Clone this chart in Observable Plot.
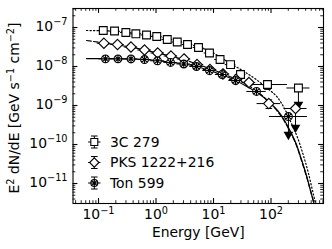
<!DOCTYPE html>
<html><head><meta charset="utf-8">
<script src="https://cdn.jsdelivr.net/npm/d3@7"></script>
<script src="https://cdn.jsdelivr.net/npm/@observablehq/plot@0.6"></script>
<style>html,body{margin:0;padding:0;background:#fff}svg{display:block}</style>
</head><body><div id="chart"></div>
<script>
// ---------- data ----------
const series = ["3C 279", "PKS 1222+216", "Ton 599"];

const energy3C = [0.121, 0.190, 0.299, 0.446, 0.684, 1.03, 1.57, 2.34, 3.53, 5.48, 8.51, 13.0, 19.8, 29.5, 86.9, 300];
const flux3C   = [8.38e-8, 8.13e-8, 7.44e-8, 6.89e-8, 6.42e-8, 5.88e-8, 4.92e-8, 4.25e-8, 3.66e-8, 3.07e-8, 2.22e-8, 1.51e-8, 1.12e-8, 6.24e-9, 3.45e-9, 2.81e-9];
const eLo3C    = [0.098, 0.154, 0.242, 0.361, 0.553, 0.833, 1.27, 1.89, 2.86, 4.43, 6.89, 10.5, 16.0, 23.9, 39.0, 189];
const eHi3C    = [0.150, 0.235, 0.370, 0.551, 0.845, 1.27, 1.94, 2.89, 4.36, 6.77, 10.5, 16.1, 24.5, 36.5, 193, 476];
const rel3C    = [0.03, 0.03, 0.03, 0.03, 0.03, 0.03, 0.04, 0.04, 0.05, 0.06, 0.07, 0.08, 0.1, 0.15, 0.25, 0.1];

const energyPKS = [0.124, 0.214, 0.367, 0.631, 1.07, 1.82, 3.07, 5.17, 8.69, 14.6, 24.6, 41.4, 91.6, 267];
const fluxPKS   = [3.95e-8, 3.66e-8, 3.16e-8, 2.65e-8, 2.22e-8, 1.86e-8, 1.56e-8, 1.12e-8, 8.37e-9, 6.43e-9, 4.65e-9, 3.89e-9, 1.12e-9, 8.37e-10];
const eLoPKS    = [0.095, 0.164, 0.281, 0.482, 0.818, 1.39, 2.35, 3.95, 6.64, 11.2, 18.8, 31.7, 57.2, 168];
const eHiPKS    = [0.162, 0.280, 0.480, 0.825, 1.40, 2.38, 4.02, 6.76, 11.4, 19.1, 32.2, 54.2, 147, 423];
const relPKS    = [0.03, 0.03, 0.03, 0.03, 0.03, 0.04, 0.04, 0.05, 0.06, 0.08, 0.1, 0.15, 0.25, 0.1];

const energyTon = [0.132, 0.218, 0.367, 0.631, 1.06, 1.79, 3.04, 5.06, 8.51, 14.1, 24.2, 56.0, 201];
const fluxTon   = [1.57e-8, 1.57e-8, 1.56e-8, 1.51e-8, 1.40e-8, 1.27e-8, 1.16e-8, 1.0e-8, 7.89e-9, 6.24e-9, 4.38e-9, 2.29e-9, 5.22e-10];
const eLoTon    = [0.101, 0.167, 0.281, 0.482, 0.810, 1.37, 2.32, 3.87, 6.51, 10.8, 18.5, 38.0, 94];
const eHiTon    = [0.173, 0.285, 0.480, 0.825, 1.39, 2.34, 3.98, 6.62, 11.1, 18.4, 31.7, 82.6, 430];
const relTon    = [0.03, 0.03, 0.03, 0.03, 0.03, 0.04, 0.04, 0.05, 0.06, 0.08, 0.1, 0.15, 0.1];

// last bins: error bars ending in downward arrows
const arrowEnergy = [300, 267, 201];
const arrowTop    = [2.81e-9, 8.37e-10, 5.22e-10];
const arrowBottom = [1.06e-9, 2.73e-10, 1.80e-10];

// model curves
const modelE3C = [0.0618, 0.122, 0.295, 0.684, 1.585, 3.67, 8.51, 19.8, 36.1, 58.2, 86.9, 130, 179, 227, 289, 353, 449, 527, 594, 660];
const modelF3C = [8.38e-8, 8.23e-8, 7.67e-8, 6.62e-8, 5.22e-8, 3.78e-8, 2.49e-8, 1.19e-8, 7.02e-9, 4.38e-9, 2.73e-9, 1.60e-9, 7.45e-10, 3.45e-10, 1.51e-10, 6.24e-11, 1.80e-11, 6.62e-12, 3.07e-12, 1.4e-12];
const modelEPKS = [0.0618, 0.122, 0.214, 0.361, 0.631, 1.06, 1.79, 3.01, 5.06, 8.51, 14.3, 24.2, 40.6, 60.6, 90.5, 130, 172, 218, 277, 339, 414, 486, 571, 644];
const modelFPKS = [4.64e-8, 4.01e-8, 3.56e-8, 3.16e-8, 2.65e-8, 2.22e-8, 1.86e-8, 1.51e-8, 1.16e-8, 8.89e-9, 6.62e-9, 4.78e-9, 3.26e-9, 2.15e-9, 1.27e-9, 7.02e-10, 3.89e-10, 2.03e-10, 9.42e-11, 3.89e-11, 1.51e-11, 6.62e-12, 2.73e-12, 1.51e-12];
const modelETon = [0.0618, 0.132, 0.361, 0.631, 1.06, 1.79, 3.01, 5.06, 8.51, 14.3, 24.2, 40.6, 60.6, 90.5, 130, 172, 218, 277, 339, 414, 486, 571, 644];
const modelFTon = [1.60e-8, 1.59e-8, 1.56e-8, 1.51e-8, 1.43e-8, 1.28e-8, 1.16e-8, 1.0e-8, 7.89e-9, 6.05e-9, 4.38e-9, 2.90e-9, 2.03e-9, 1.27e-9, 7.45e-10, 4.12e-10, 2.15e-10, 1.0e-10, 4.12e-11, 1.60e-11, 6.62e-12, 2.73e-12, 1.51e-12];

// ticks
const xMajorTicks = [0.1, 1, 10, 100];
const xTickExp = ["−1", "0", "1", "2"];
const yMajorTicks = [1e-11, 1e-10, 1e-9, 1e-8, 1e-7];
const yTickExp = ["−11", "−10", "−9", "−8", "−7"];
const xLabel = "Energy [GeV]";
const yLabel = "E{2} dN/dE [GeV s{−1} cm{−2}]";

// ---------- layout ----------
const W = 332, H = 249, mL = 72.5, mR = 9, mT = 8, mB = 46;
const fh = H - mT - mB, fw = W - mL - mR;
const xDomain = [0.036, 818.5], yDomain = [3.07e-12, 3.07e-7];
const FS = 13.9, MAJ = 4.9, MIN = 2.8;

function minorTicks(dom) {
  const out = [];
  for (let p = -13; p <= 3; p++) for (let k = 2; k <= 9; k++) {
    const v = k * Math.pow(10, p);
    if (v > dom[0] && v < dom[1]) out.push(v);
  }
  return out;
}
const xMinor = minorTicks(xDomain), yMinor = minorTicks(yDomain);

function rows(E, F, Lo, Hi, R) {
  return E.map((e, i) => ({e, f: F[i], elo: Lo[i], ehi: Hi[i], flo: F[i] * (1 - R[i]), fhi: F[i] * (1 + R[i])}));
}
const d3C = rows(energy3C, flux3C, eLo3C, eHi3C, rel3C);
const dPKS = rows(energyPKS, fluxPKS, eLoPKS, eHiPKS, relPKS);
const dTon = rows(energyTon, fluxTon, eLoTon, eHiTon, relTon);
const allPts = d3C.concat(dPKS, dTon);
const arrows = arrowEnergy.map((e, i) => ({e, top: arrowTop[i], bottom: arrowBottom[i]}));
const model = (E, F) => E.map((e, i) => ({e, f: F[i]}));

// custom symbols
const capSym = {draw(ctx, size) { const r = Math.sqrt(size / Math.PI); ctx.moveTo(-r, 0); ctx.lineTo(r, 0); }};
const tonSym = {draw(ctx, size) {
  const r = Math.sqrt(size / Math.PI);
  ctx.moveTo(r, 0); ctx.arc(0, 0, r, 0, 2 * Math.PI);
  const a = r * 0.7071;
  ctx.moveTo(-a, -a); ctx.lineTo(a, a); ctx.moveTo(-a, a); ctx.lineTo(a, -a);
  ctx.moveTo(-r, 0); ctx.lineTo(r, 0); ctx.moveTo(0, -r); ctx.lineTo(0, r);
}};
const R_SQ = 4.4, R_DI = 4.7, R_TON = 3.9, R_CAP = 3.3;

const LW = 1.1, MLW = 1.2;
const tickMarks = [
  Plot.ruleX(xMajorTicks, {x: d => d, insetTop: fh - MAJ, stroke: "black", strokeWidth: LW}),
  Plot.ruleX(xMajorTicks, {x: d => d, insetBottom: fh - MAJ, stroke: "black", strokeWidth: LW}),
  Plot.ruleX(xMinor, {x: d => d, insetTop: fh - MIN, stroke: "black", strokeWidth: 0.85}),
  Plot.ruleX(xMinor, {x: d => d, insetBottom: fh - MIN, stroke: "black", strokeWidth: 0.85}),
  Plot.ruleY(yMajorTicks, {y: d => d, insetRight: fw - MAJ, stroke: "black", strokeWidth: LW}),
  Plot.ruleY(yMajorTicks, {y: d => d, insetLeft: fw - MAJ, stroke: "black", strokeWidth: LW}),
  Plot.ruleY(yMinor, {y: d => d, insetRight: fw - MIN, stroke: "black", strokeWidth: 0.85}),
  Plot.ruleY(yMinor, {y: d => d, insetLeft: fw - MIN, stroke: "black", strokeWidth: 0.85})
];

const chart = Plot.plot({
  width: W, height: H,
  marginLeft: mL, marginRight: mR, marginTop: mT, marginBottom: mB,
  x: {type: "log", domain: xDomain, axis: null},
  y: {type: "log", domain: yDomain, axis: null},
  style: {fontFamily: "DejaVu Sans", fontSize: FS + "px", background: "white", color: "black", overflow: "visible"},
  marks: [
    Plot.line(model(modelE3C, modelF3C), {x: "e", y: "f", stroke: "black", strokeWidth: MLW, strokeDasharray: "1.3,2.2", curve: "monotone-x", clip: true}),
    Plot.line(model(modelEPKS, modelFPKS), {x: "e", y: "f", stroke: "black", strokeWidth: MLW, strokeDasharray: "4.8,2.2", curve: "monotone-x", clip: true}),
    Plot.line(model(modelETon, modelFTon), {x: "e", y: "f", stroke: "black", strokeWidth: MLW, curve: "monotone-x", clip: true}),
    // error bars
    Plot.ruleY(allPts, {y: "f", x1: "elo", x2: "ehi", stroke: "black", strokeWidth: 1}),
    Plot.ruleX(allPts, {x: "e", y1: "flo", y2: "fhi", stroke: "black", strokeWidth: 1}),
    Plot.dot(allPts, {x: "e", y: "flo", symbol: capSym, r: R_CAP, stroke: "black", strokeWidth: 1}),
    Plot.dot(allPts, {x: "e", y: "fhi", symbol: capSym, r: R_CAP, stroke: "black", strokeWidth: 1}),
    // arrows
    Plot.ruleX(arrows, {x: "e", y1: "top", y2: "bottom", stroke: "black", strokeWidth: 1}),
    Plot.dot(arrows, {x: "e", y: "bottom", symbol: "triangle", rotate: 180, r: 3.6, fill: "black", stroke: "none"}),
    // markers
    Plot.dot(d3C, {x: "e", y: "f", symbol: "square", r: R_SQ, fill: "white", stroke: "black", strokeWidth: 1.1}),
    Plot.dot(dPKS, {x: "e", y: "f", symbol: "diamond2", r: R_DI, fill: "white", stroke: "black", strokeWidth: 1.1}),
    Plot.dot(dTon, {x: "e", y: "f", symbol: tonSym, r: R_TON, fill: "white", stroke: "black", strokeWidth: 1.1}),
    ...tickMarks,
    Plot.frame({stroke: "black", strokeWidth: LW}),
    // tick labels
    Plot.text(xMajorTicks, {x: d => d, frameAnchor: "bottom", text: (d, i) => "10{" + xTickExp[i] + "}", lineAnchor: "top", dy: 6, fill: "black", fontSize: FS}),
    Plot.text(yMajorTicks, {y: d => d, frameAnchor: "left", text: (d, i) => "10{" + yTickExp[i] + "}", textAnchor: "end", dx: -5.5, dy: -1, fill: "black", fontSize: FS}),
    Plot.text([xLabel], {frameAnchor: "bottom", text: d => d, textAnchor: "middle", lineAnchor: "top", dy: 24, fill: "black", fontSize: FS}),
    Plot.text([yLabel], {frameAnchor: "left", text: d => d, textAnchor: "middle", rotate: -90, dx: -58, dy: 2, fill: "black", fontSize: FS})
  ]
});
document.getElementById("chart").appendChild(chart);

// superscripts: turn "{...}" segments into raised smaller tspans
const SUP = FS * 0.7, RAISE = 5.8;
d3.select(chart).selectAll("text").each(function () {
  const t = this.textContent;
  if (!t.includes("{")) return;
  const el = d3.select(this);
  el.text(null);
  let raised = false;
  t.split(/(\{[^}]*\})/).forEach(seg => {
    if (!seg) return;
    if (seg.startsWith("{")) {
      el.append("tspan").attr("dy", raised ? 0 : -RAISE).attr("font-size", SUP).text(seg.slice(1, -1));
      raised = true;
    } else {
      el.append("tspan").attr("dy", raised ? RAISE : 0).text(seg);
      raised = false;
    }
  });
});

// legend
const svg = d3.select(chart);
const lg = svg.append("g").attr("stroke", "black").attr("stroke-width", 1);
const legendSyms = [d3.symbolSquare, d3.symbolDiamond2, tonSym];
const legendR = [R_SQ, R_DI, R_TON];
const legendY = [142, 162.5, 183];
const lx = 94.3;
series.forEach((name, i) => {
  const y = legendY[i];
  lg.append("line").attr("x1", lx - 6.2).attr("x2", lx + 6.2).attr("y1", y).attr("y2", y);
  lg.append("line").attr("x1", lx).attr("x2", lx).attr("y1", y - 6).attr("y2", y + 6);
  lg.append("line").attr("x1", lx - R_CAP).attr("x2", lx + R_CAP).attr("y1", y - 6).attr("y2", y - 6);
  lg.append("line").attr("x1", lx - R_CAP).attr("x2", lx + R_CAP).attr("y1", y + 6).attr("y2", y + 6);
  lg.append("path").attr("transform", `translate(${lx},${y})`)
    .attr("d", d3.symbol(legendSyms[i], Math.PI * legendR[i] * legendR[i] * 0.8)())
    .attr("fill", "white").attr("stroke-width", 1.1);
  svg.append("text").attr("x", 110).attr("y", y).attr("dy", "0.35em").attr("text-anchor", "start")
    .attr("font-family", "DejaVu Sans").attr("font-size", FS).attr("fill", "black").text(name);
});
</script>
</body></html>
